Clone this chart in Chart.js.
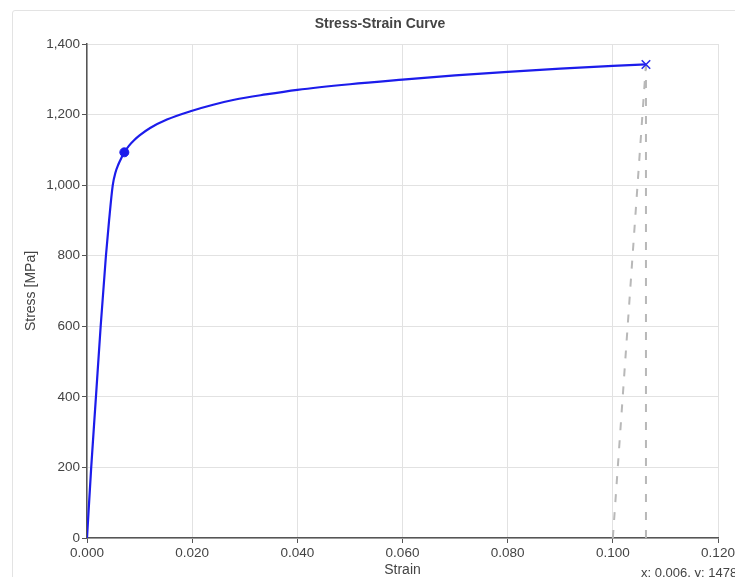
<!DOCTYPE html>
<html>
<head>
<meta charset="utf-8">
<script src="https://cdn.jsdelivr.net/npm/chart.js@4"></script>
<style>
  html, body { margin: 0; padding: 0; background: #fff; overflow: hidden; }
  #panel { position: absolute; left: 12px; top: 10px; width: 760px; height: 620px;
           border: 1px solid #e3e3e3; border-radius: 3px; }
  #chart_box { position: absolute; left: 0; top: 0; width: 734px; height: 568px; }
  #chart_title { position: absolute; left: 0; top: 4px; width: 734px; text-align: center;
                 font: bold 14px "Liberation Sans", Arial, sans-serif; color: #444; }
  #hover_value { position: absolute; left: 628px; top: 554px; white-space: nowrap;
                 font: 13px "Liberation Sans", Arial, sans-serif; color: #444; }
</style>
</head>
<body>
<div id="panel">
  <div id="chart_box"><canvas id="stress_chart"></canvas></div>
  <div id="chart_title">Stress-Strain Curve</div>
  <div id="hover_value">x: 0.006, y: 1478</div>
</div>
<script>
// curve
const strain_values = [0, 0.0008, 0.0017, 0.0026, 0.0036, 0.0042, 0.0049, 0.0054, 0.0060, 0.0066, 0.0071,
  0.0080, 0.0090, 0.0100, 0.0120, 0.0152, 0.0200, 0.0240, 0.0280, 0.0340, 0.0400, 0.0500, 0.0600,
  0.0700, 0.0800, 0.0900, 0.1000, 0.1063];
const stress_values = [0, 200, 400, 600, 800, 900, 1000, 1035, 1060, 1079, 1093,
  1112, 1128, 1141, 1162, 1186, 1211, 1228, 1242, 1257, 1270, 1286, 1299,
  1311, 1321, 1330, 1338, 1342];

const yield_point = { strain: 0.0071, stress: 1093 };
const ultimate_point = { strain: 0.1063, stress: 1342 };

// offset (unloading) line and vertical line at the ultimate point
const offset_strain = [0.1000, 0.1063];
const offset_stress = [0, 1342];
const vertical_strain = [0.1063, 0.1063];
const vertical_stress = [0, 1342];

const x_ticks = [0, 0.02, 0.04, 0.06, 0.08, 0.10, 0.12];
const y_ticks = [0, 200, 400, 600, 800, 1000, 1200, 1400];

function toPoints(xs, ys) {
  return xs.map(function(x, i) { return { x: x, y: ys[i] }; });
}

const font_family = '"Liberation Sans", Arial, sans-serif';
const dash_style = {
  showLine: true,
  borderColor: "#b8b8b8",
  borderWidth: 2,
  borderDash: [8, 10],
  pointRadius: 0,
  fill: false
};

new Chart("stress_chart", {
  type: "scatter",
  data: {
    datasets: [{
      label: "Curve",
      data: toPoints(strain_values, stress_values),
      showLine: true,
      borderColor: "rgb(28,28,235)",
      borderWidth: 2.2,
      pointRadius: 0,
      cubicInterpolationMode: "monotone",
      order: 1
    }, Object.assign({
      label: "Offset",
      data: toPoints(offset_strain, offset_stress),
      order: 3
    }, dash_style), Object.assign({
      label: "Vertical",
      data: toPoints(vertical_strain, vertical_stress),
      order: 3
    }, dash_style), {
      label: "Yield",
      data: [{ x: yield_point.strain, y: yield_point.stress }],
      pointStyle: "circle",
      pointRadius: 4.5,
      backgroundColor: "rgb(28,28,235)",
      borderColor: "rgb(28,28,235)",
      order: 0
    }, {
      label: "Ultimate",
      data: [{ x: ultimate_point.strain, y: ultimate_point.stress }],
      pointStyle: "crossRot",
      pointRadius: 6,
      borderWidth: 1.6,
      borderColor: "rgb(40,40,235)",
      order: 0
    }]
  },
  options: {
    responsive: true,
    maintainAspectRatio: false,
    animation: false,
    layout: { padding: { top: 33, left: 0, right: 29, bottom: 0 } },
    plugins: {
      legend: { display: false },
      tooltip: { enabled: false },
      title: { display: false }
    },
    scales: {
      x: {
        type: "linear",
        min: 0,
        max: 0.12,
        afterBuildTicks: function(scale) {
          scale.ticks = x_ticks.map(function(v) { return { value: v }; });
        },
        afterFit: function(scale) { scale.height = 41; },
        grid: { color: "#e2e2e2", tickColor: "#555", tickLength: 5 },
        border: { color: "#555", width: 1.5 },
        ticks: {
          padding: 2,
          color: "#444",
          font: { family: font_family, size: 13.5 },
          maxRotation: 0,
          callback: function(v) { return Number(v).toFixed(3); }
        },
        title: {
          display: true,
          text: "Strain",
          color: "#444",
          font: { family: font_family, size: 14 },
          padding: { top: 0, bottom: 0 }
        }
      },
      y: {
        type: "linear",
        min: 0,
        max: 1400,
        afterBuildTicks: function(scale) {
          scale.ticks = y_ticks.map(function(v) { return { value: v }; });
        },
        afterFit: function(scale) { scale.width = 74; },
        grid: { color: "#e2e2e2", tickColor: "#555", tickLength: 5 },
        border: { color: "#555", width: 1.5 },
        ticks: {
          padding: 2,
          color: "#444",
          font: { family: font_family, size: 13.5 },
          callback: function(v) { return Number(v).toLocaleString("en-US"); }
        },
        title: {
          display: true,
          text: "Stress [MPa]",
          color: "#444",
          font: { family: font_family, size: 14 },
          padding: { top: 10, bottom: 0 }
        }
      }
    }
  }
});
</script>
</body>
</html>
